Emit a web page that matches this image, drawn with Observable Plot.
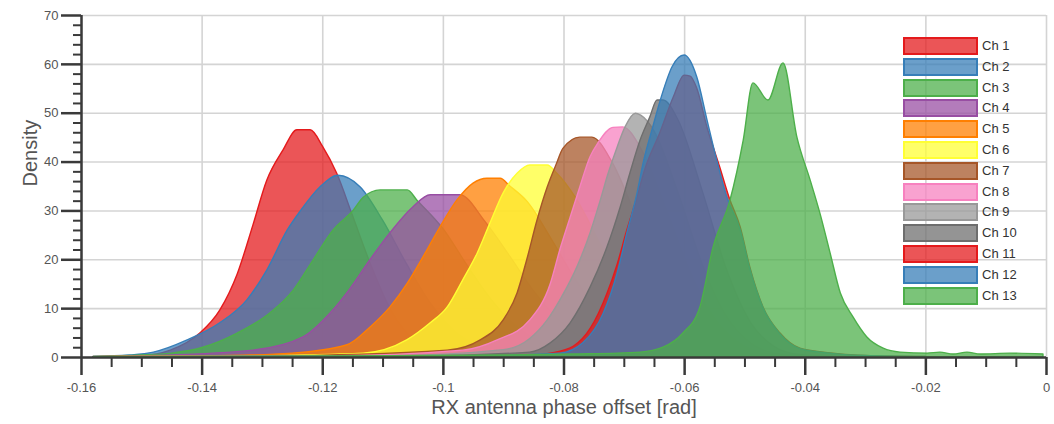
<!DOCTYPE html>
<html>
<head>
<meta charset="utf-8">
<script src="https://cdn.jsdelivr.net/npm/d3@7"></script>
<script src="https://cdn.jsdelivr.net/npm/@observablehq/plot@0.6"></script>
<style>
  html, body { margin: 0; padding: 0; background: #fff; }
  #wrap { position: relative; width: 1054px; height: 424px; font-family: "Liberation Sans", Arial, sans-serif; }
  #legend { position: absolute; left: 903px; top: 37px; }
  .item { position: relative; height: 20.8px; }
  .sw { position: absolute; left: 0; top: 0; width: 71px; height: 14px; border: 2px solid; }
  .lab { position: absolute; left: 79px; top: 0px; font-size: 13px; line-height: 18px; color: #333; white-space: nowrap; }
</style>
</head>
<body>
<div id="wrap"><div id="legend"></div></div>
<script>
const channels = ["Ch 1","Ch 2","Ch 3","Ch 4","Ch 5","Ch 6","Ch 7","Ch 8","Ch 9","Ch 10","Ch 11","Ch 12","Ch 13"];
const colors = ["#e41a1c","#377eb8","#4daf4a","#984ea3","#ff7f00","#ffff33","#a65628","#f781bf","#999999","#6e6e6e","#e41a1c","#377eb8","#4daf4a"];

const xMajorTicks = [-0.16,-0.14,-0.12,-0.1,-0.08,-0.06,-0.04,-0.02,0];
const xTickLabels = ["-0.16","-0.14","-0.12","-0.1","-0.08","-0.06","-0.04","-0.02","0"];
const xMinorTicks = [-0.155,-0.15,-0.145,-0.135,-0.13,-0.125,-0.115,-0.11,-0.105,-0.095,-0.09,-0.085,-0.075,-0.07,-0.065,-0.055,-0.05,-0.045,-0.035,-0.03,-0.025,-0.015,-0.01,-0.005];
const yMajorTicks = [0,10,20,30,40,50,60,70];
const yMinorTicks = [2,4,6,8,12,14,16,18,22,24,26,28,32,34,36,38,42,44,46,48,52,54,56,58,62,64,66,68];

const ch1X = [-0.158,-0.150,-0.1452,-0.1403,-0.137,-0.1341,-0.1315,-0.1292,-0.1265,-0.1242,-0.1220,-0.1199,-0.1176,-0.115,-0.112,-0.109,-0.106,-0.103,-0.100,-0.096,-0.090];
const ch1Y = [0.1,0.3,1.4,4.9,9.6,17,27,36.2,42.4,46.5,46.5,43,37.6,29,19,10.5,5,2.2,0.9,0.3,0.1];
const ch2X = [-0.158,-0.152,-0.148,-0.1424,-0.137,-0.1325,-0.1292,-0.1258,-0.1237,-0.1204,-0.1174,-0.1137,-0.110,-0.106,-0.102,-0.098,-0.094,-0.090,-0.085,-0.080];
const ch2Y = [0.1,0.4,1.0,3.5,7,11.7,17.8,26,29.8,34.8,37.2,34.8,28,19,10.9,5.2,2.2,0.8,0.3,0.1];
const ch3X = [-0.158,-0.150,-0.145,-0.1398,-0.1341,-0.1287,-0.1248,-0.1215,-0.1182,-0.1149,-0.1132,-0.1104,-0.1059,-0.1043,-0.100,-0.096,-0.092,-0.088,-0.084,-0.080,-0.075,-0.070];
const ch3Y = [0.1,0.4,0.8,2,4.9,9,13.7,19.9,26,30,32.7,34.2,34.2,32.1,26.3,18.8,11.8,6.5,3.2,1.3,0.4,0.1];
const ch4X = [-0.158,-0.148,-0.1315,-0.1232,-0.1187,-0.1154,-0.1121,-0.1088,-0.105,-0.1021,-0.0972,-0.093,-0.089,-0.085,-0.081,-0.077,-0.073,-0.068,-0.062];
const ch4Y = [0.05,0.3,1.4,4.1,9,14,19.9,25.4,30.7,33.2,33.2,27.7,20.8,13.6,7.9,4.0,1.7,0.5,0.1];
const ch5X = [-0.158,-0.140,-0.125,-0.1159,-0.1121,-0.1088,-0.1059,-0.1033,-0.1005,-0.0977,-0.095,-0.0927,-0.0905,-0.0889,-0.086,-0.082,-0.078,-0.074,-0.070,-0.066,-0.061,-0.055];
const ch5Y = [0.05,0.2,0.8,2.5,6.1,10.2,15.1,20.5,26.6,32.1,35.6,36.6,36.6,35,31.8,24.1,15.8,9,4.4,1.9,0.5,0.1];
const ch6X = [-0.158,-0.135,-0.1132,-0.106,-0.1021,-0.0993,-0.0967,-0.0943,-0.0922,-0.090,-0.0877,-0.0856,-0.0827,-0.0811,-0.078,-0.074,-0.070,-0.066,-0.062,-0.058,-0.053,-0.048];
const ch6Y = [0.05,0.2,0.8,3.5,7,10.2,15.8,21.3,27.4,33.6,37.6,39.3,39.3,37.6,32.6,23.3,14.2,7.3,3.2,1.2,0.3,0.1];
const ch7X = [-0.158,-0.130,-0.0993,-0.0938,-0.090,-0.0877,-0.0861,-0.0844,-0.0827,-0.0812,-0.0801,-0.0773,-0.0753,-0.072,-0.068,-0.064,-0.060,-0.056,-0.052,-0.047,-0.042];
const ch7Y = [0.05,0.2,1.4,3.5,7.6,13.1,19.9,28,34.8,39.5,42.7,45,45,40,28.8,16.9,8.1,3.1,1.0,0.3,0.1];
const ch8X = [-0.158,-0.120,-0.0967,-0.091,-0.0856,-0.0822,-0.0806,-0.0789,-0.0773,-0.0756,-0.0743,-0.0718,-0.0702,-0.067,-0.063,-0.059,-0.055,-0.051,-0.047,-0.042,-0.036];
const ch8Y = [0.05,0.2,1.4,3.5,7.6,15,22,28.6,34.8,41,43.8,47,47.1,42.3,30.3,17.4,8,3.0,0.9,0.2,0.05];
const ch9X = [-0.158,-0.110,-0.090,-0.0856,-0.0827,-0.0806,-0.0778,-0.0756,-0.0739,-0.0726,-0.0711,-0.0698,-0.0681,-0.0672,-0.065,-0.061,-0.057,-0.053,-0.049,-0.045,-0.040,-0.035];
const ch9Y = [0.05,0.2,1.5,3.8,7.6,11.7,18.4,25.4,32.1,37.6,43,47.1,49.9,49.5,46.3,33.6,19,8.4,2.9,0.8,0.2,0.05];
const ch10X = [-0.158,-0.105,-0.0856,-0.0822,-0.0789,-0.0756,-0.0728,-0.0706,-0.069,-0.0673,-0.0657,-0.0645,-0.0635,-0.061,-0.057,-0.053,-0.049,-0.045,-0.041,-0.036];
const ch10Y = [0.05,0.2,1.0,2.9,7,14.3,22.5,30.7,37.6,44.4,49.1,52.6,52.6,48.5,34,18,7.1,2.1,0.5,0.1];
const ch11X = [-0.158,-0.100,-0.0858,-0.0822,-0.0784,-0.0755,-0.0728,-0.0711,-0.0695,-0.068,-0.0665,-0.064,-0.0618,-0.060,-0.059,-0.0579,-0.0562,-0.0541,-0.0525,-0.0507,-0.0491,-0.0469,-0.0441,-0.0408,-0.0353,-0.030,-0.020];
const ch11Y = [0.05,0.1,0.3,0.8,2.2,6,13,19,26,32,38.5,46,53.2,57.7,57.5,55,47,38.9,32.5,26.6,18.4,10.2,4.9,1.8,0.8,0.3,0.1];
const ch12X = [-0.158,-0.100,-0.0806,-0.0768,-0.0734,-0.0711,-0.0695,-0.0678,-0.0668,-0.0652,-0.0637,-0.062,-0.060,-0.0579,-0.0562,-0.0546,-0.0529,-0.0507,-0.0491,-0.0469,-0.0441,-0.0408,-0.0353,-0.030,-0.020];
const ch12Y = [0.05,0.1,0.8,2.9,9,17.2,25.4,33.6,39.7,47.1,53.6,59.4,61.8,57.3,48.5,40.3,32.7,26,18,10,4.7,1.7,0.7,0.3,0.1];
const ch13X = [-0.158,-0.120,-0.090,-0.0784,-0.0673,-0.0635,-0.0602,-0.0574,-0.0552,-0.0524,-0.0502,-0.0486,-0.0461,-0.0436,-0.0413,-0.0391,-0.0375,-0.0358,-0.0341,-0.032,-0.0297,-0.027,-0.0242,-0.0197,-0.0176,-0.0154,-0.0131,-0.0109,-0.006,-0.0005];
const ch13Y = [0.05,0.2,0.4,0.6,1.0,2,4.9,10.2,22.5,32.1,44.4,56.1,52.6,60.2,45,36.2,29.5,21.3,13.1,8.2,4.1,1.8,1.0,0.8,1.0,0.6,1.0,0.6,0.8,0.6];

const seriesX = [ch1X,ch2X,ch3X,ch4X,ch5X,ch6X,ch7X,ch8X,ch9X,ch10X,ch11X,ch12X,ch13X];
const seriesY = [ch1Y,ch2Y,ch3Y,ch4Y,ch5Y,ch6Y,ch7Y,ch8Y,ch9Y,ch10Y,ch11Y,ch12Y,ch13Y];

const rows = [];
channels.forEach((ch, i) => {
  seriesX[i].forEach((x, j) => rows.push({ch, x, y: seriesY[i][j]}));
});

const axisInk = "#3a3a3a";
const textInk = "#555";

const chart = Plot.plot({
  width: 1054,
  height: 424,
  marginLeft: 81,
  marginRight: 8,
  marginTop: 15,
  marginBottom: 67,
  style: {fontFamily: "'Liberation Sans', Arial, sans-serif", background: "transparent", overflow: "visible"},
  x: {domain: [-0.16, 0]},
  y: {domain: [0, 70]},
  color: {domain: channels, range: colors},
  marks: [
    Plot.gridX(xMajorTicks, {stroke: "#d4d4d4", strokeOpacity: 1, strokeWidth: 1.6}),
    Plot.gridY(yMajorTicks, {stroke: "#d4d4d4", strokeOpacity: 1, strokeWidth: 1.6}),
    Plot.areaY(rows, {x: "x", y1: 0, y2: "y", z: "ch", fill: "ch", fillOpacity: 0.74, stroke: "ch", strokeWidth: 1.4, curve: "monotone-x"}),
    Plot.ruleY([0], {stroke: axisInk, strokeWidth: 2.5}),
    Plot.ruleX([-0.16], {stroke: axisInk, strokeWidth: 2.5}),
    Plot.axisX(xMajorTicks, {tickSize: 18, tickPadding: 7, stroke: axisInk, strokeWidth: 2.5, fill: textInk, fontSize: 13, label: null,
      tickFormat: d => xTickLabels[xMajorTicks.indexOf(d)]}),
    Plot.ruleX(xMinorTicks, {y1: 0, y2: 0, insetBottom: -10, stroke: axisInk, strokeWidth: 2}),
    Plot.axisY(yMajorTicks, {tickSize: 20, tickPadding: 3, stroke: axisInk, strokeWidth: 2.5, fill: textInk, fontSize: 13, label: null}),
    Plot.ruleY(yMinorTicks, {x1: -0.16, x2: -0.16, insetLeft: -8, stroke: axisInk, strokeWidth: 2}),
    Plot.text(["RX antenna phase offset [rad]"], {frameAnchor: "bottom", dy: 56, fontSize: 20, fill: textInk}),
    Plot.text(["Density"], {frameAnchor: "left", dx: -51, rotate: -90, fontSize: 20, fill: textInk})
  ]
});

const wrap = document.getElementById("wrap");
wrap.insertBefore(chart, wrap.firstChild);

const legend = document.getElementById("legend");
channels.forEach((ch, i) => {
  const item = document.createElement("div");
  item.className = "item";
  const sw = document.createElement("div");
  sw.className = "sw";
  sw.style.borderColor = colors[i];
  const c = d3.color(colors[i]); c.opacity = 0.74;
  sw.style.background = c.formatRgb();
  const lab = document.createElement("div");
  lab.className = "lab";
  lab.textContent = ch;
  item.appendChild(sw);
  item.appendChild(lab);
  legend.appendChild(item);
});
</script>
</body>
</html>
